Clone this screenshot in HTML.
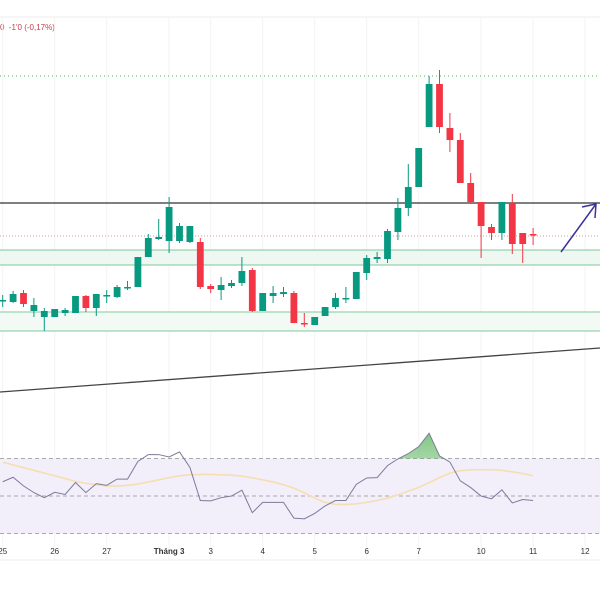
<!DOCTYPE html>
<html><head><meta charset="utf-8"><style>
html,body{margin:0;padding:0;background:#fff;width:600px;height:600px;overflow:hidden;font-family:"Liberation Sans","Noto Sans CJK SC",sans-serif}
</style></head><body>
<svg id="chart" width="600" height="600" xmlns="http://www.w3.org/2000/svg" font-family="Liberation Sans, sans-serif">
<line x1="0" y1="17" x2="600" y2="17" stroke="#eee"/>
<text x="0" y="30" font-size="8" fill="#c2404f">0 &#160;-1'0 (-0,17%)</text>
<g id="grid"></g>
<g id="levels"></g>
<g id="candles"></g>
<g id="rsi"></g>
<g id="xaxis"></g>
</svg>
<script>
const openP=[100,98,107,89,83,83,87,87,104,92,104,103,112,113,143,161,159,159,158,158,114,110,114,117,130,89,104,106,107,77,75,84,93,101,101,127,141,141,168,192,213,273,316,272,260,217,198,173,167,197,167,166];
const closeP=[100,106,96,95,89,91,90,104,92,106,105,113,113,143,162,163,193,174,174,113,111,115,117,129,89,107,107,108,77,76,83,93,102,102,128,142,143,169,192,213,252,316,273,260,217,198,174,167,198,156,156,165];
const highP=[105,109,110,102,92,91,92,104,105,106,110,115,119,143,166,181,203,177,174,162,116,123,120,143,132,107,114,113,109,87,83,93,107,113,128,145,148,171,202,236,252,324,330,287,267,227,191,176,198,206,167,172];
const lowP=[93,97,93,83,69,83,84,87,88,84,97,102,110,113,143,160,147,157,157,111,107,100,112,114,88,89,97,103,77,73,75,84,91,97,101,120,137,137,160,184,213,273,267,248,217,196,142,160,160,146,137,155];
const rsiVals=[57.6,60.0,55.4,51.8,49.1,52.0,50.8,57.2,51.8,56.6,55.7,59.0,59.0,68.4,72.1,72.1,70.8,73.5,65.3,47.6,47.4,49.1,50.0,53.1,41.1,46.6,46.6,46.6,38.2,37.8,40.7,44.7,47.6,47.6,56.2,59.6,59.8,66.2,69.8,72.6,76.3,83.5,71.4,68.1,58.1,54.5,50.0,48.5,53.3,46.3,48.1,47.6];
const maVals=[68.0,66.6,65.1,63.7,62.2,60.8,59.3,57.8,56.8,56.0,55.3,55.3,55.7,56.4,57.5,58.6,59.8,60.8,61.3,61.5,61.5,61.3,61.1,60.6,59.7,58.6,57.5,56.0,54.2,51.7,48.9,46.6,45.5,45.5,45.8,46.6,47.6,48.9,50.6,52.6,54.6,57.1,59.8,62.2,63.5,64.0,64.0,64.0,63.7,62.9,62.0,60.8];
const dayLabels=["25","26","27","Tháng 3","3","4","5","6","7","10","11","12"];
const dayIndex=[0,5,10,16,20,25,30,35,40,46,51,56];
const levelPrices=[324,197,164,150,135,88,69];

const NS="http://www.w3.org/2000/svg";
function xS(i){return 2.7+10.4*i;}
function yS(p){return 400-p;}
function rS(r){return 496-(r-50)*1.875;}
function mk(tag,attrs,parent){const e=document.createElementNS(NS,tag);for(const k in attrs)e.setAttribute(k,attrs[k]);parent.appendChild(e);return e;}
const grid=document.getElementById('grid'),lev=document.getElementById('levels'),cg=document.getElementById('candles'),rg=document.getElementById('rsi'),xg=document.getElementById('xaxis');

for(let k=0;k<dayIndex.length;k++){const g=mk('line',{x1:xS(dayIndex[k]),x2:xS(dayIndex[k]),y1:18,y2:560,stroke:'#f3f3f3'},grid);

}

let e;
e=mk('rect',{x:0,y:yS(levelPrices[3]),width:600,height:yS(levelPrices[4])-yS(levelPrices[3]),fill:'#eef7f1'},lev);


e=mk('rect',{x:0,y:yS(levelPrices[5]),width:600,height:yS(levelPrices[6])-yS(levelPrices[5]),fill:'#f3faf5'},lev);


[3,4,5,6].forEach(k=>{const l=mk('line',{x1:0,x2:600,y1:yS(levelPrices[k]),y2:yS(levelPrices[k]),stroke:'#7fc99a','stroke-width':1},lev);

});
e=mk('line',{x1:0,x2:600,y1:yS(levelPrices[0]),y2:yS(levelPrices[0]),stroke:'#4caf50','stroke-dasharray':'1,3'},lev);


e=mk('line',{x1:0,x2:600,y1:yS(levelPrices[1]),y2:yS(levelPrices[1]),stroke:'#333','stroke-width':1.3},lev);


e=mk('line',{x1:0,x2:600,y1:yS(levelPrices[2]),y2:yS(levelPrices[2]),stroke:'#c99','stroke-dasharray':'1,2'},lev);


e=mk('line',{x1:0,y1:392,x2:600,y2:348,stroke:'#444','stroke-width':1.3},lev);


e=mk('path',{d:'M561,252 L596,204 M582,207 L596,204 L595,218',stroke:'#3b3599','stroke-width':1.5,fill:'none'},lev);



for(let i=0;i<openP.length;i++){
 const up=closeP[i]>=openP[i];const col=up?'#089981':'#f23645';const x=xS(i);
 const w=mk('line',{x1:x,x2:x,y1:yS(highP[i]),y2:yS(lowP[i]),stroke:col,'stroke-width':1},cg);
 
 
 const top=yS(Math.max(openP[i],closeP[i])),bot=yS(Math.min(openP[i],closeP[i]));
 const b=mk('rect',{x:x-3.4,y:top,width:6.8,height:Math.max(1.5,bot-top),fill:col},cg);
 
 
}

e=mk('rect',{x:0,y:rS(70),width:600,height:rS(30)-rS(70),fill:'#f2effb'},rg);


[70,50,30].forEach(v=>{const l=mk('line',{x1:0,x2:600,y1:rS(v),y2:rS(v),stroke:'#aaa','stroke-dasharray':'4,3'},rg);

});
const defs=mk('defs',{},rg);
const cp=mk('clipPath',{id:'ob'},defs);mk('rect',{x:xS(36),y:0,width:200,height:rS(70)},cp);
const gr=mk('linearGradient',{id:'gg',x1:0,y1:0,x2:0,y2:1},defs);
mk('stop',{offset:'0','stop-color':'#4caf50','stop-opacity':'0.7'},gr);mk('stop',{offset:'1','stop-color':'#4caf50','stop-opacity':'0.05'},gr);
let pts=rsiVals.map((v,i)=>xS(i)+','+rS(v)).join(' ');
e=mk('polygon',{points:xS(0)+','+rS(70)+' '+pts+' '+xS(rsiVals.length-1)+','+rS(70),fill:'url(#gg)','clip-path':'url(#ob)'},rg);


e=mk('polyline',{points:maVals.map((v,i)=>xS(i)+','+rS(v)).join(' '),fill:'none',stroke:'#f5deb0','stroke-width':1.6},rg);


e=mk('polyline',{points:pts,fill:'none',stroke:'#7e7a9a','stroke-width':1},rg);


e=mk('line',{x1:0,x2:600,y1:560,y2:560,stroke:'#eee'},rg);



for(let k=0;k<dayLabels.length;k++){const t=mk('text',{x:xS(dayIndex[k]),y:554,'font-size':8,fill:'#333','text-anchor':'middle','font-weight':k===3?'bold':'normal'},xg);
t.textContent=dayLabels[k];

}
</script>
</body></html>
